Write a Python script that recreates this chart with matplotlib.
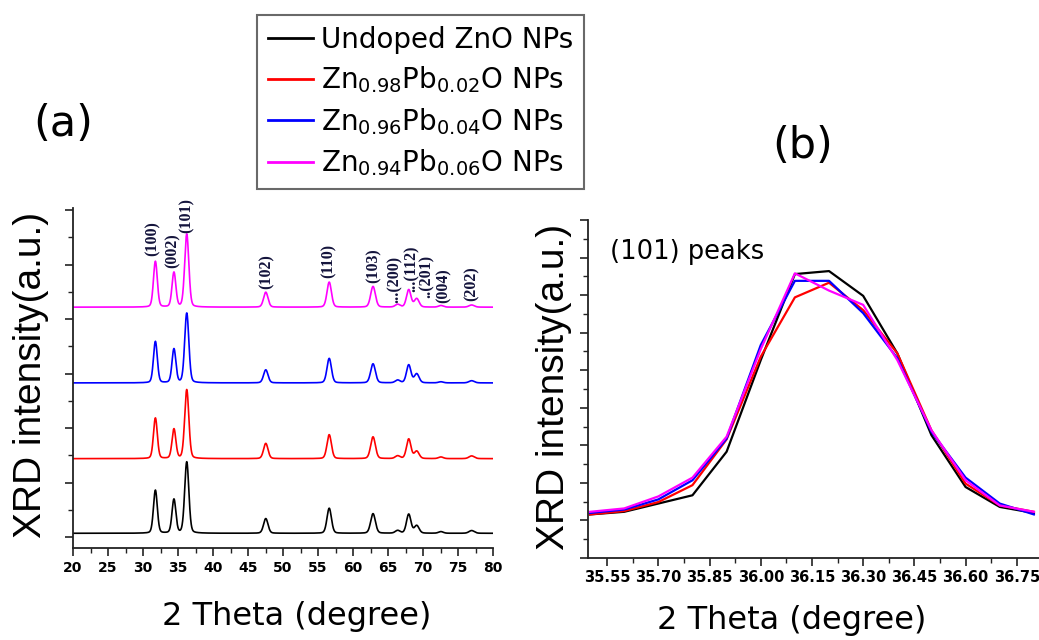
import numpy as np
import matplotlib
matplotlib.use("Agg")
import matplotlib.pyplot as plt
from matplotlib.ticker import MultipleLocator, FixedLocator, AutoMinorLocator

# ---------------- data ----------------
series_names = ["Undoped ZnO NPs",
                r"Zn$_{\mathregular{0.98}}$Pb$_{\mathregular{0.02}}$O NPs",
                r"Zn$_{\mathregular{0.96}}$Pb$_{\mathregular{0.04}}$O NPs",
                r"Zn$_{\mathregular{0.94}}$Pb$_{\mathregular{0.06}}$O NPs"]
series_colors = ["black", "#ff0000", "#0000ff", "#ff00ff"]

# panel (a): XRD peaks (2-theta positions, FWHM) and heights per sample
hkl_labels = ["(100)", "(002)", "(101)", "(102)", "(110)", "(103)",
              "(200)", "(112)", "(201)", "(004)", "(202)"]
peak_pos = [31.77, 34.42, 36.25, 47.54, 56.60, 62.86, 66.38, 67.96, 69.10, 72.56, 76.95]
peak_fwhm = [0.65, 0.65, 0.70, 0.75, 0.75, 0.80, 0.80, 0.75, 0.80, 0.80, 0.90]
baseline_offsets = [0.07, 1.44, 2.83, 4.22]
h_undoped = [0.79, 0.62, 1.31, 0.27, 0.46, 0.36, 0.05, 0.35, 0.14, 0.03, 0.05]
h_pb002 = [0.745, 0.54, 1.265, 0.28, 0.44, 0.40, 0.05, 0.36, 0.135, 0.03, 0.05]
h_pb004 = [0.76, 0.62, 1.28, 0.24, 0.45, 0.35, 0.05, 0.33, 0.165, 0.02, 0.04]
h_pb006 = [0.84, 0.635, 1.34, 0.275, 0.46, 0.38, 0.05, 0.32, 0.155, 0.03, 0.04]
peak_heights = [h_undoped, h_pb002, h_pb004, h_pb006]

# annotation labels (as drawn above the top trace)
label_texts = ["(100)", "(002)", "(101)", "(102)", "(110)", "(103)",
               "...(200)", "...(112)", "..(201)", "(004)", "(202)"]
label_x = [31.4, 34.2, 36.3, 47.7, 56.5, 62.9, 66.0, 68.4, 70.5, 72.9, 77.0]
label_y = [5.16, 4.93, 5.59, 4.56, 4.76, 4.67, 4.30, 4.50, 4.38, 4.30, 4.34]

# panel (b): (101) peak, measured points
theta_b = [35.5, 35.6, 35.7, 35.8, 35.9, 36.0, 36.1, 36.2, 36.3, 36.4, 36.5, 36.6, 36.7, 36.8]
b_undoped = [1.16, 1.23, 1.45, 1.67, 2.83, 5.27, 7.56, 7.64, 6.98, 5.45, 3.27, 1.89, 1.36, 1.20]
b_pb002 = [1.16, 1.25, 1.49, 1.94, 3.16, 5.36, 6.94, 7.33, 6.60, 5.45, 3.40, 1.98, 1.40, 1.23]
b_pb004 = [1.20, 1.29, 1.56, 2.07, 3.18, 5.67, 7.38, 7.38, 6.52, 5.32, 3.36, 2.14, 1.45, 1.16]
b_pb006 = [1.23, 1.32, 1.64, 2.14, 3.23, 5.56, 7.58, 7.12, 6.74, 5.27, 3.40, 2.07, 1.40, 1.23]
b_values = [b_undoped, b_pb002, b_pb004, b_pb006]

xticks_a = [20, 25, 30, 35, 40, 45, 50, 55, 60, 65, 70, 75, 80]
xticks_b = [35.55, 35.70, 35.85, 36.00, 36.15, 36.30, 36.45, 36.60, 36.75]
xticklabels_b = ["35.55", "35.70", "35.85", "36.00", "36.15", "36.30", "36.45", "36.60", "36.75"]

# ---------------- figure ----------------
W, H = 1039, 640
plt.rcParams['font.family'] = ['DejaVu Sans']
plt.rcParams['mathtext.fontset'] = 'dejavusans'
fig = plt.figure(figsize=(W / 100, H / 100), dpi=100)


def fx(px):
    return px / W


def fy(py):
    return 1 - py / H


ax_a = fig.add_axes([fx(73), fy(548), fx(493) - fx(73), fy(208) - fy(548)])
ax_b = fig.add_axes([fx(588), fy(558), fx(1039) - fx(588), fy(220) - fy(558)])


def profile(x, pos, fwhm, h, eta=0.2):
    g = np.exp(-4 * np.log(2) * (x - pos) ** 2 / fwhm ** 2)
    l = 1.0 / (1 + 4 * (x - pos) ** 2 / fwhm ** 2)
    return h * ((1 - eta) * g + eta * l)


x_a = np.linspace(20, 80, 4001)
lines = []
for name, col, base, heights in zip(series_names, series_colors, baseline_offsets, peak_heights):
    y = np.full_like(x_a, base)
    for p, w, h in zip(peak_pos, peak_fwhm, heights):
        y = y + profile(x_a, p, w, h)
    ln, = ax_a.plot(x_a, y, color=col, lw=1.2)
    lines.append(ln)

for t, lx, ly in zip(label_texts, label_x, label_y):
    ax_a.text(lx, ly, t, rotation=90, ha='center', va='bottom',
              family='Liberation Serif', fontweight='bold', fontsize=11.5,
              color='#14143c', clip_on=False)

ax_a.set_xlim(20, 80)
ax_a.set_ylim(-0.2, 6.04)
ax_a.xaxis.set_major_locator(FixedLocator(xticks_a))
ax_a.xaxis.set_minor_locator(MultipleLocator(2.5))
ax_a.yaxis.set_major_locator(MultipleLocator(1))
ax_a.yaxis.set_minor_locator(MultipleLocator(0.5))
ax_a.set_yticklabels([])
ax_a.tick_params(axis='x', which='major', labelsize=10, pad=3)
for lab in ax_a.get_xticklabels():
    lab.set_fontweight('bold')

for ln_name, col, vals in zip(series_names, series_colors, b_values):
    ax_b.plot(theta_b, vals, color=col, lw=1.6)

ax_b.set_xlim(35.494, 36.815)
ax_b.set_ylim(0, 9)
ax_b.xaxis.set_major_locator(FixedLocator(xticks_b))
ax_b.set_xticklabels(xticklabels_b)
ax_b.xaxis.set_minor_locator(AutoMinorLocator(2))
ax_b.yaxis.set_major_locator(MultipleLocator(1))
ax_b.yaxis.set_minor_locator(MultipleLocator(0.5))
ax_b.set_yticklabels([])
ax_b.tick_params(axis='x', which='major', labelsize=10.5, pad=3)
for lab in ax_b.get_xticklabels():
    lab.set_fontweight('bold')

for ax in (ax_a, ax_b):
    ax.spines['top'].set_visible(False)
    ax.spines['right'].set_visible(False)
    for s in ('left', 'bottom'):
        ax.spines[s].set_linewidth(1.3)
        ax.spines[s].set_color('#222222')
    ax.tick_params(which='major', direction='out', length=6, width=1.2, color='#222222')
    ax.tick_params(which='minor', direction='out', length=3.5, width=1.0, color='#222222')

# texts
fig.text(fx(63), fy(124), "(a)", ha='center', va='center', fontsize=31)
fig.text(fx(803), fy(146), "(b)", ha='center', va='center', fontsize=31)
fig.text(fx(31), fy(375), "XRD intensity(a.u.)", rotation=90, ha='center', va='center',
         family='Liberation Sans', fontsize=28)
fig.text(fx(554), fy(387), "XRD intensity(a.u.)", rotation=90, ha='center', va='center',
         family='Liberation Sans', fontsize=28)
fig.text(fx(297), fy(617), "2 Theta (degree)", ha='center', va='center', fontsize=23)
fig.text(fx(792), fy(621), "2 Theta (degree)", ha='center', va='center', fontsize=23)
fig.text(fx(610), fy(252), "(101) peaks", ha='left', va='center', fontsize=18.5)

leg = fig.legend(lines, series_names, loc='upper left',
                 bbox_to_anchor=(fx(257), fy(15)), bbox_transform=fig.transFigure,
                 fontsize=20, frameon=True, fancybox=False, borderpad=0.4,
                 borderaxespad=0, handlelength=1.6, handletextpad=0.3,
                 labelspacing=0.38)
leg.get_frame().set_edgecolor('#444444')
leg.get_frame().set_linewidth(1.5)
for h in leg.legend_handles:
    h.set_linewidth(2)

fig.savefig("out.png", dpi=100)
